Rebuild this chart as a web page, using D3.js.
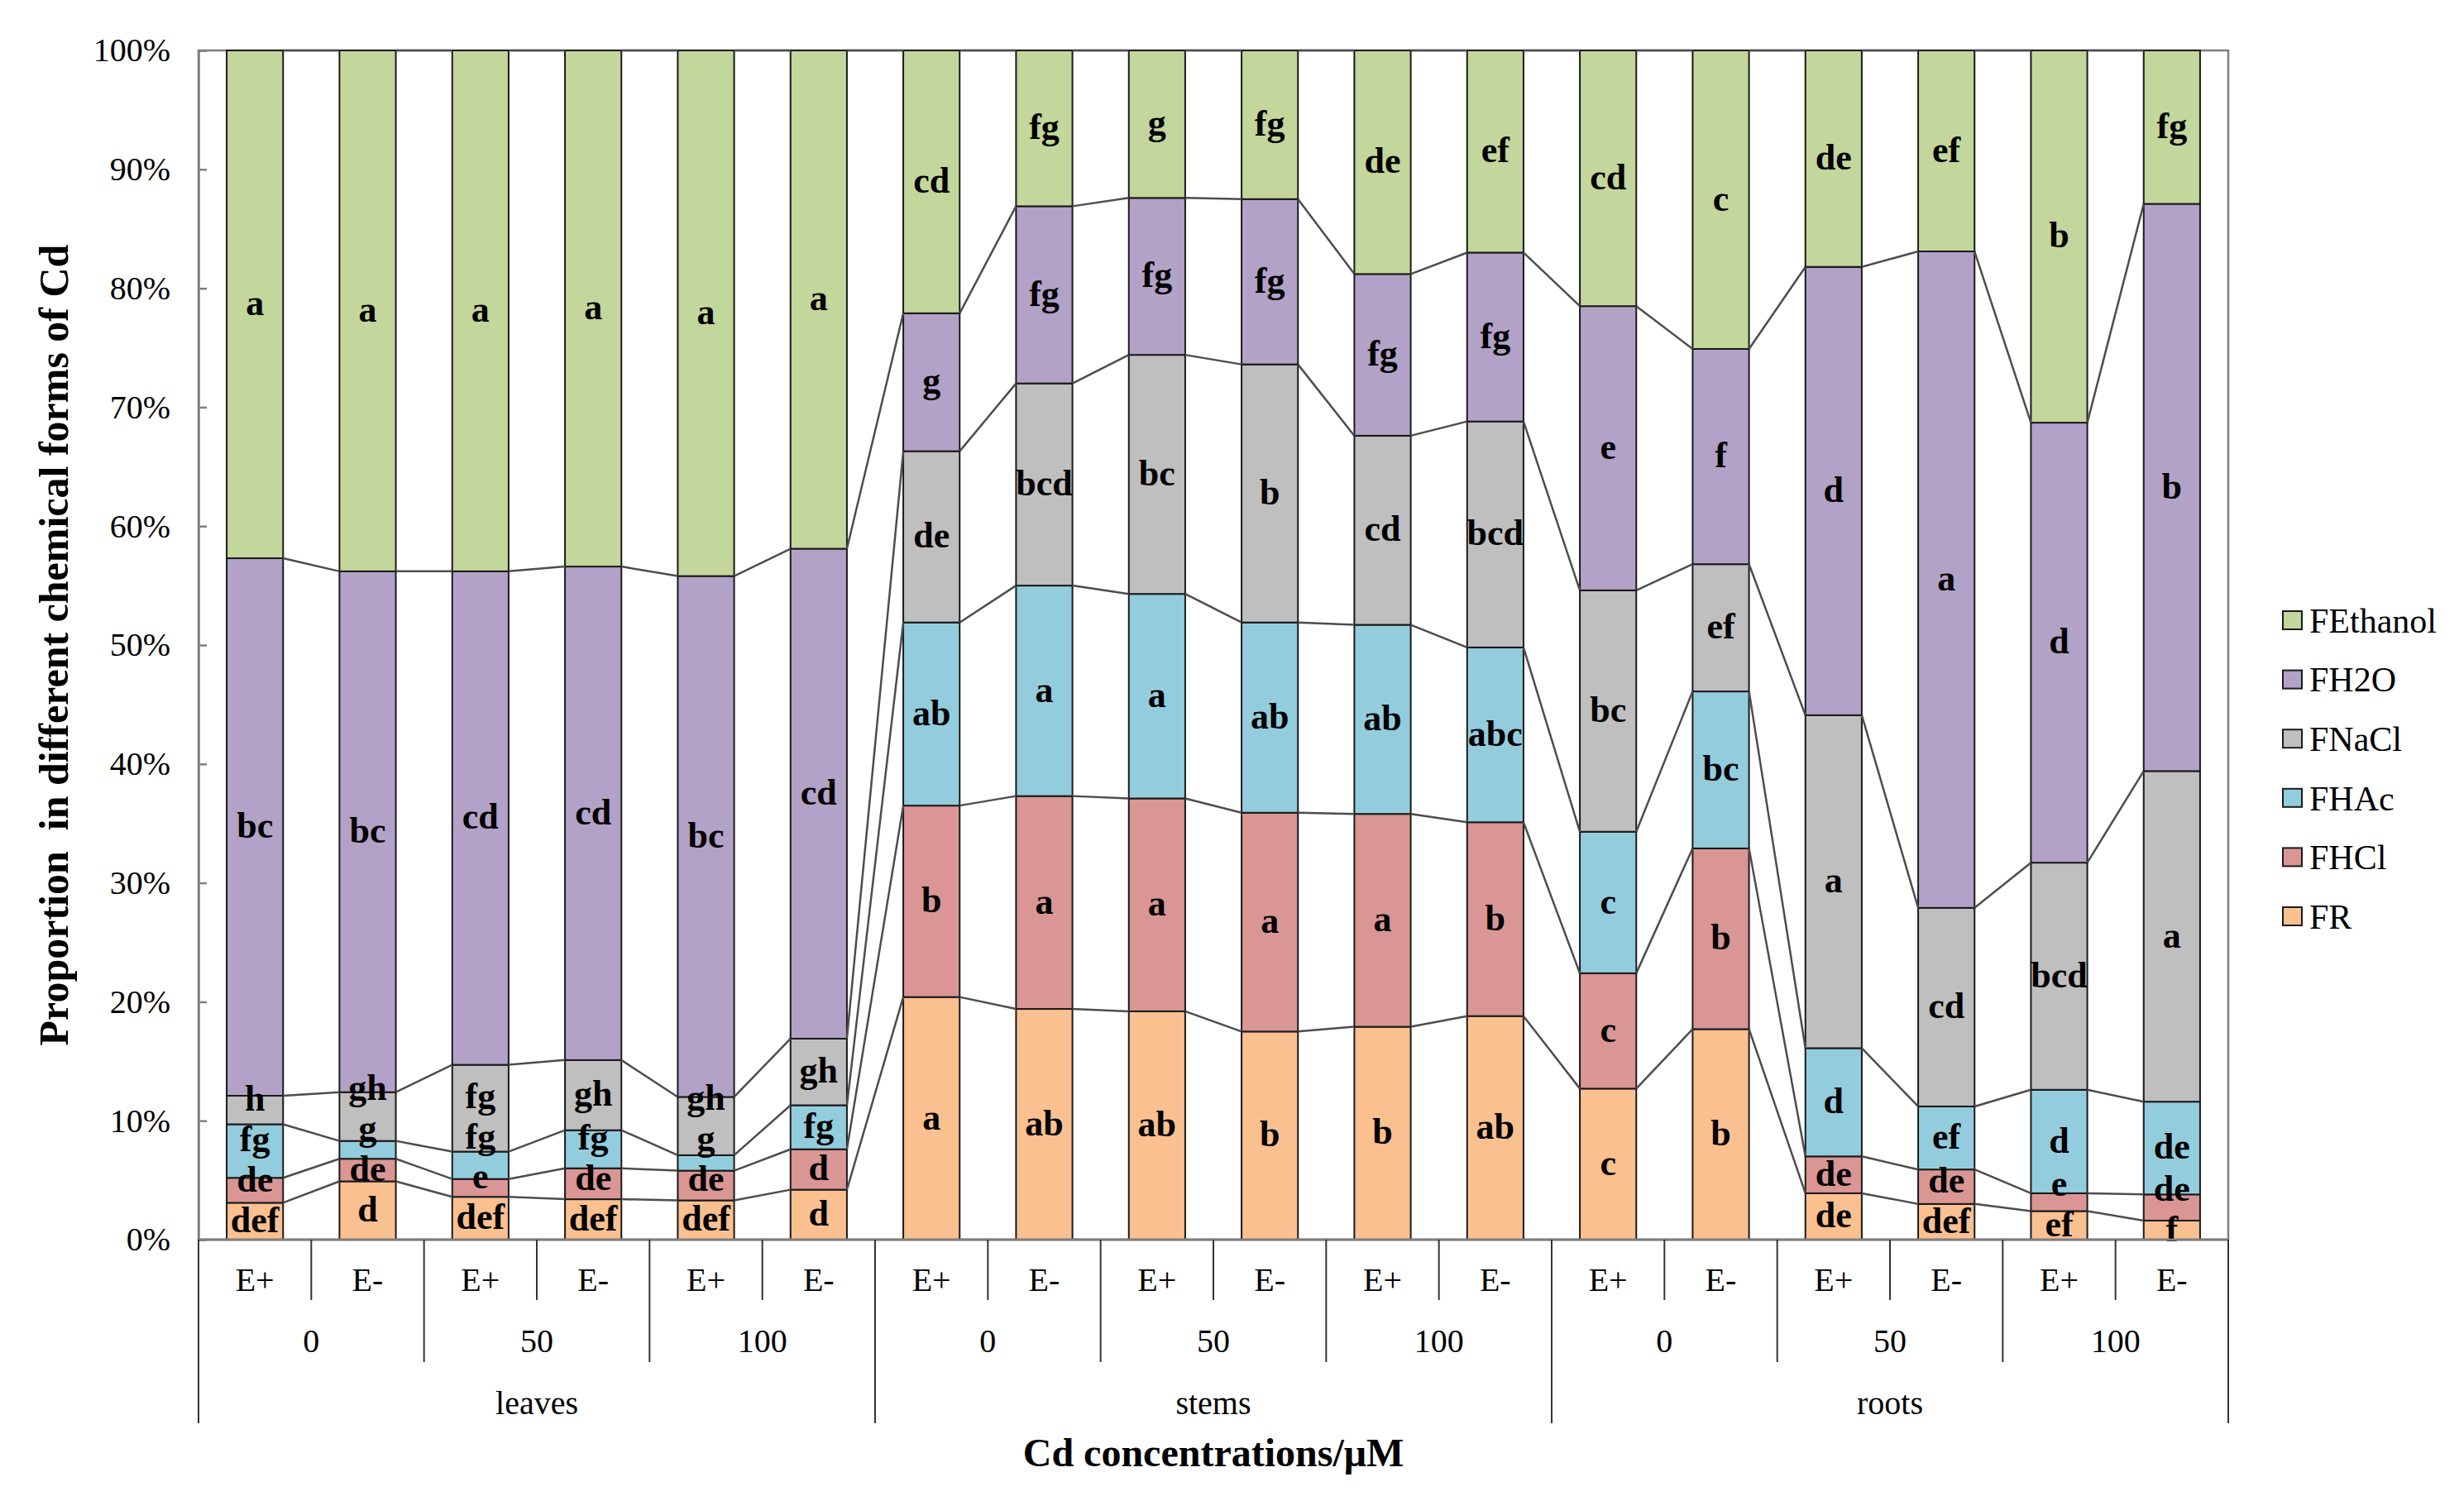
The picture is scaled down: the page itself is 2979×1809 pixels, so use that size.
<!DOCTYPE html>
<html>
<head>
<meta charset="utf-8">
<script src="https://cdn.jsdelivr.net/npm/d3@7"></script>
<style>
  body { margin: 0; background: #fff; }
  svg { display: block; font-family: "Liberation Serif", "Times New Roman", serif; }
</style>
</head>
<body>
<div id="chart"></div>
<script>
// Categories (three-level x axis)
const organs = ["leaves", "stems", "roots"];
const concentrations = ["0", "50", "100"];
const endophyte = ["E+", "E-"];

// Series, bottom to top
const seriesNames = ["FR", "FHCl", "FHAc", "FNaCl", "FH2O", "FEthanol"];
const seriesColors = ["#FAC090", "#D99694", "#93CDDD", "#BFBFBF", "#B3A2C7", "#C3D69B"];

// Proportion (%) of each chemical form, one value per bar (18 bars)
const FR       = [3.1, 4.9, 3.6, 3.4, 3.3, 4.2, 20.4, 19.4, 19.2, 17.5, 17.9, 18.8, 12.7, 17.7, 3.9, 3.0, 2.4, 1.6];
const FHCl     = [2.1, 1.9, 1.5, 2.6, 2.5, 3.4, 16.1, 17.9, 17.9, 18.4, 17.9, 16.3, 9.7, 15.2, 3.1, 2.9, 1.5, 2.2];
const FHAc     = [4.5, 1.5, 2.3, 3.2, 1.3, 3.7, 15.4, 17.7, 17.2, 16.0, 15.9, 14.7, 11.9, 13.2, 9.1, 5.3, 8.7, 7.8];
const FNaCl    = [2.4, 4.1, 7.3, 5.9, 4.9, 5.6, 14.4, 17.0, 20.1, 21.7, 15.9, 19.0, 20.3, 10.7, 28.0, 16.7, 19.1, 27.8];
const FH2O     = [45.2, 43.8, 41.5, 41.5, 43.8, 41.2, 11.6, 14.9, 13.2, 13.9, 13.6, 14.2, 23.9, 18.1, 37.7, 55.2, 37.0, 47.7];
const FEthanol = [42.7, 43.8, 43.8, 43.4, 44.2, 41.9, 22.1, 13.1, 12.4, 12.5, 18.8, 17.0, 21.5, 25.1, 18.2, 16.9, 31.3, 12.9];

// Significance letters on each segment
const lettersFR       = ["def", "d", "def", "def", "def", "d", "a", "ab", "ab", "b", "b", "ab", "c", "b", "de", "def", "ef", "f"];
const lettersFHCl     = ["de", "de", "e", "de", "de", "d", "b", "a", "a", "a", "a", "b", "c", "b", "de", "de", "e", "de"];
const lettersFHAc     = ["fg", "g", "fg", "fg", "g", "fg", "ab", "a", "a", "ab", "ab", "abc", "c", "bc", "d", "ef", "d", "de"];
const lettersFNaCl    = ["h", "gh", "fg", "gh", "gh", "gh", "de", "bcd", "bc", "b", "cd", "bcd", "bc", "ef", "a", "cd", "bcd", "a"];
const lettersFH2O     = ["bc", "bc", "cd", "cd", "bc", "cd", "g", "fg", "fg", "fg", "fg", "fg", "e", "f", "d", "a", "d", "b"];
const lettersFEthanol = ["a", "a", "a", "a", "a", "a", "cd", "fg", "g", "fg", "de", "ef", "cd", "c", "de", "ef", "b", "fg"];

const yTicks = [0, 10, 20, 30, 40, 50, 60, 70, 80, 90, 100];

const seriesValues = [FR, FHCl, FHAc, FNaCl, FH2O, FEthanol];
const seriesLetters = [lettersFR, lettersFHCl, lettersFHAc, lettersFNaCl, lettersFH2O, lettersFEthanol];

// Build table rows for d3.stack
const rows = [];
organs.forEach(o => concentrations.forEach(c => endophyte.forEach(e => {
    const i = rows.length;
    const row = { id: i, organ: o, conc: c, endo: e };
    seriesNames.forEach((s, k) => row[s] = seriesValues[k][i]);
    rows.push(row);
})));

const width = 2979;
const height = 1809;
const margin = { left: 240, right: 2979 - 2694, top: 61, bottom: 1809 - 1499 };
const plotW = width - margin.left - margin.right;
const plotH = height - margin.top - margin.bottom;

const svg = d3.select("#chart")
    .append("svg")
    .attr("width", width)
    .attr("height", height);

const g = svg.append("g").attr("transform", `translate(${margin.left},${margin.top})`);

const x = d3.scaleBand()
    .domain(rows.map(d => d.id))
    .range([0, plotW])
    .paddingInner(0.5)
    .paddingOuter(0.25);

const y = d3.scaleLinear().domain([0, 100]).range([plotH, 0]);

const stacked = d3.stack().keys(seriesNames)(rows);

// Plot area border (top + right)
g.append("rect")
    .attr("x", 0).attr("y", 0)
    .attr("width", plotW).attr("height", plotH)
    .attr("fill", "none")
    .attr("stroke", "#7f7f7f")
    .attr("stroke-width", 2.5);

// Bars
const layers = g.append("g")
    .selectAll("g")
    .data(stacked)
    .join("g")
    .attr("fill", (d, k) => seriesColors[k]);

layers.selectAll("rect")
    .data(d => d)
    .join("rect")
    .attr("x", d => x(d.data.id))
    .attr("y", d => y(d[1]))
    .attr("width", x.bandwidth())
    .attr("height", d => y(d[0]) - y(d[1]))
    .attr("stroke", "#1a1a1a")
    .attr("stroke-width", 2);

// Series lines connecting segment tops of neighbouring bars
g.append("g")
    .selectAll("path")
    .data(stacked)
    .join("path")
    .attr("fill", "none")
    .attr("stroke", "#4d4d4d")
    .attr("stroke-width", 2.5)
    .attr("d", layer => {
        const segs = [];
        for (let i = 0; i < layer.length - 1; i++) {
            segs.push("M" + [x(layer[i].data.id) + x.bandwidth(), y(layer[i][1])] +
                "L" + [x(layer[i + 1].data.id), y(layer[i + 1][1])]);
        }
        return segs.join("");
    });

// Letter positions: segment middle, pushed up when a label below is too close
const minGap = 3.4; // in % units
const labelPos = seriesNames.map(() => []);
rows.forEach((r, i) => {
    let prev = -Infinity;
    stacked.forEach((layer, k) => {
        let mid = (layer[i][0] + layer[i][1]) / 2;
        if (mid - prev < minGap) mid = prev + minGap;
        labelPos[k][i] = mid;
        prev = mid;
    });
});

const labels = g.append("g");
stacked.forEach((layer, k) => {
    labels.append("g").selectAll("text")
        .data(layer)
        .join("text")
        .attr("x", d => x(d.data.id) + x.bandwidth() / 2)
        .attr("y", (d, i) => y(labelPos[k][i]))
        .attr("dy", "0.3em")
        .attr("text-anchor", "middle")
        .attr("fill", "#000")
        .attr("font-weight", "bold")
        .attr("font-size", 44)
        .text((d, i) => seriesLetters[k][i]);
});

// Y axis
const yAxis = g.append("g")
    .call(d3.axisLeft(y).tickValues(yTicks).tickFormat(d => d + "%").tickSize(-10).tickPadding(34));
yAxis.select(".domain").attr("stroke", "#7f7f7f").attr("stroke-width", 2.5);
yAxis.selectAll(".tick line").attr("stroke", "#7f7f7f").attr("stroke-width", 2.5);
yAxis.selectAll(".tick text")
    .attr("font-family", "Liberation Serif, serif")
    .attr("font-size", 40)
    .attr("fill", "#000");

// X axis baseline
g.append("line")
    .attr("x1", 0).attr("x2", plotW)
    .attr("y1", plotH).attr("y2", plotH)
    .attr("stroke", "#7f7f7f")
    .attr("stroke-width", 3);

// Multi-level category axis
const step = x.step();
const edge = i => i * step; // left boundary of slot i
const xa = g.append("g").attr("transform", `translate(0,${plotH})`)
    .attr("font-size", 40).attr("fill", "#000");

// level 1: E+ / E-
xa.selectAll(".lab1")
    .data(rows)
    .join("text")
    .attr("x", d => x(d.id) + x.bandwidth() / 2)
    .attr("y", 48)
    .attr("dy", "0.35em")
    .attr("text-anchor", "middle")
    .text(d => d.endo);

// level 2: concentrations
const concGroups = [];
organs.forEach(o => concentrations.forEach(c => concGroups.push({ organ: o, conc: c, start: concGroups.length * 2 })));
xa.selectAll(".lab2")
    .data(concGroups)
    .join("text")
    .attr("x", d => edge(d.start + 1))
    .attr("y", 122)
    .attr("dy", "0.35em")
    .attr("text-anchor", "middle")
    .text(d => d.conc);

// level 3: organs
xa.selectAll(".lab3")
    .data(organs)
    .join("text")
    .attr("x", (d, i) => edge(i * 6 + 3))
    .attr("y", 197)
    .attr("dy", "0.35em")
    .attr("text-anchor", "middle")
    .text(d => d);

// separators
const seps = d3.range(0, rows.length + 1).map(i => ({
    i, len: i % 6 === 0 ? 222 : (i % 2 === 0 ? 148 : 73)
}));
xa.selectAll("line")
    .data(seps)
    .join("line")
    .attr("x1", d => edge(d.i)).attr("x2", d => edge(d.i))
    .attr("y1", 0).attr("y2", d => d.len)
    .attr("stroke", "#333")
    .attr("stroke-width", 2);

// Axis titles
svg.append("text")
    .attr("x", margin.left + plotW / 2)
    .attr("y", 1756)
    .attr("dy", "0.35em")
    .attr("text-anchor", "middle")
    .attr("font-weight", "bold")
    .attr("font-size", 48)
    .text("Cd concentrations/\u03bcM");

svg.append("text")
    .attr("transform", `translate(64,${margin.top + plotH / 2}) rotate(-90)`)
    .attr("dy", "0.35em")
    .attr("text-anchor", "middle")
    .attr("font-weight", "bold")
    .attr("font-size", 50)
    .attr("xml:space", "preserve")
    .text("Proportion  in different chemical forms of Cd");

// Legend (top series first)
const legend = svg.append("g").attr("transform", "translate(2760,750)");
const legendItems = seriesNames.map((s, k) => ({ s, c: seriesColors[k] })).reverse();
const li = legend.selectAll("g")
    .data(legendItems)
    .join("g")
    .attr("transform", (d, i) => `translate(0,${i * 71.6})`);
li.append("rect")
    .attr("x", 0).attr("y", -11)
    .attr("width", 23).attr("height", 22)
    .attr("fill", d => d.c)
    .attr("stroke", "#1a1a1a")
    .attr("stroke-width", 2);
li.append("text")
    .attr("x", 32)
    .attr("dy", "0.35em")
    .attr("font-size", 42)
    .text(d => d.s);
</script>
</body>
</html>
